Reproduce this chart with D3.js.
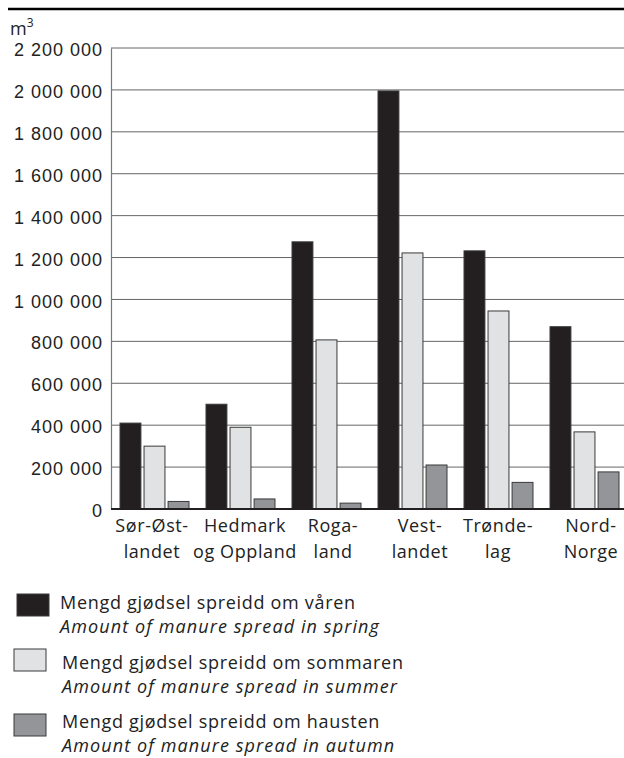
<!DOCTYPE html>
<html>
<head>
<meta charset="utf-8">
<script src="https://cdn.jsdelivr.net/npm/d3@7"></script>
<style>
  body { margin: 0; background: #fff; }
  svg { font-family: "Open Sans", "Noto Sans", sans-serif; }
</style>
</head>
<body>
<svg id="chart" width="624" height="758"></svg>
<script>
// regions (two-line labels)
const regions = [
  ["Sør-Øst-", "landet"],
  ["Hedmark", "og Oppland"],
  ["Roga-", "land"],
  ["Vest-", "landet"],
  ["Trønde-", "lag"],
  ["Nord-", "Norge"]
];
const labelShift = [-2, 5, 7, 8, 0, 7];
const spring = [410000, 500000, 1275000, 1995000, 1232000, 870000];
const summer = [300000, 390000, 807000, 1222000, 945000, 368000];
const autumn = [36000, 48000, 28000, 210000, 127000, 177000];
const yTicks = [0, 200000, 400000, 600000, 800000, 1000000, 1200000, 1400000, 1600000, 1800000, 2000000, 2200000];
const seriesNo = ["Mengd gjødsel spreidd om våren", "Mengd gjødsel spreidd om sommaren", "Mengd gjødsel spreidd om hausten"];
const seriesEn = ["Amount of manure spread in spring", "Amount of manure spread in summer", "Amount of manure spread in autumn"];
const colors = ["#231f20", "#e1e2e4", "#939598"];

const svg = d3.select("#chart");
const margin = { top: 48, left: 111, bottom: 509, right: 627 };

// top rule
svg.append("line")
  .attr("x1", 8).attr("x2", 624).attr("y1", 9).attr("y2", 9)
  .attr("stroke", "#000").attr("stroke-width", 2.5);

const x = d3.scaleBand().domain(d3.range(regions.length))
  .range([margin.left, margin.right]).paddingInner(0).paddingOuter(0);
const y = d3.scaleLinear().domain([0, 2200000]).range([margin.bottom, margin.top]);

const fmt = v => d3.format(",")(v).replace(/,/g, " ");

// gridlines
svg.append("g").selectAll("line").data(yTicks.filter(d => d > 0)).join("line")
  .attr("x1", margin.left).attr("x2", 624)
  .attr("y1", d => y(d)).attr("y2", d => y(d))
  .attr("stroke", "#666").attr("stroke-width", 1);

// y axis
const yAxis = svg.append("g")
  .attr("transform", `translate(${margin.left},0)`)
  .call(d3.axisLeft(y).tickValues(yTicks).tickFormat(fmt).tickSize(0).tickPadding(8));
yAxis.select(".domain").attr("stroke", "#777").attr("stroke-width", 1.2);
yAxis.selectAll("text").attr("font-size", 18).attr("letter-spacing", 1)
  .attr("fill", "#222").attr("dy", "0.42em");

svg.append("text").attr("x", 10).attr("y", 35).attr("font-size", 18).attr("fill", "#222")
  .text("m").append("tspan").attr("dy", -8).attr("font-size", 12).text("3");

// bars
const inner = d3.scaleBand().domain([0, 1, 2]).range([9, 78]).paddingInner(0.13);
const series = [spring, summer, autumn];
series.forEach((vals, si) => {
  svg.append("g").selectAll("rect").data(vals).join("rect")
    .attr("x", (d, i) => x(i) + inner(si))
    .attr("width", inner.bandwidth())
    .attr("y", d => y(d))
    .attr("height", d => y(0) - y(d))
    .attr("fill", colors[si])
    .attr("stroke", "#3a3a3a").attr("stroke-width", 1);
});

// x axis line
svg.append("line")
  .attr("x1", margin.left).attr("x2", 624)
  .attr("y1", y(0)).attr("y2", y(0))
  .attr("stroke", "#231f20").attr("stroke-width", 2);

// x labels
const cx = i => x(i) + x.bandwidth() / 2 + labelShift[i];
const xl = svg.append("g").selectAll("text").data(regions).join("text")
  .attr("x", (d, i) => cx(i))
  .attr("y", 532)
  .attr("text-anchor", "middle").attr("font-size", 18).attr("letter-spacing", 0.6).attr("fill", "#222");
xl.append("tspan").text(d => d[0]);
xl.append("tspan").attr("x", (d, i) => cx(i)).attr("dy", 26).text(d => d[1]);

// legend
const swatchY = [594, 649, 714];
const textY = [609, 669, 728];
const lg = svg.append("g").selectAll("g").data(seriesNo).join("g");
lg.append("rect").attr("x", (d, i) => i === 0 ? 17 : 14).attr("y", (d, i) => swatchY[i])
  .attr("width", 32).attr("height", 22)
  .attr("fill", (d, i) => colors[i]).attr("stroke", "#3a3a3a").attr("stroke-width", 1);
lg.append("text").attr("x", (d, i) => i === 0 ? 60 : 62).attr("y", (d, i) => textY[i])
  .attr("font-size", 18).attr("letter-spacing", 0.7).attr("fill", "#222").text(d => d);
lg.append("text").attr("x", (d, i) => i === 0 ? 60 : 62).attr("y", (d, i) => textY[i] + 24)
  .attr("font-size", 18).attr("letter-spacing", 1.1).attr("font-style", "italic")
  .attr("fill", "#222").text((d, i) => seriesEn[i]);
</script>
</body>
</html>
